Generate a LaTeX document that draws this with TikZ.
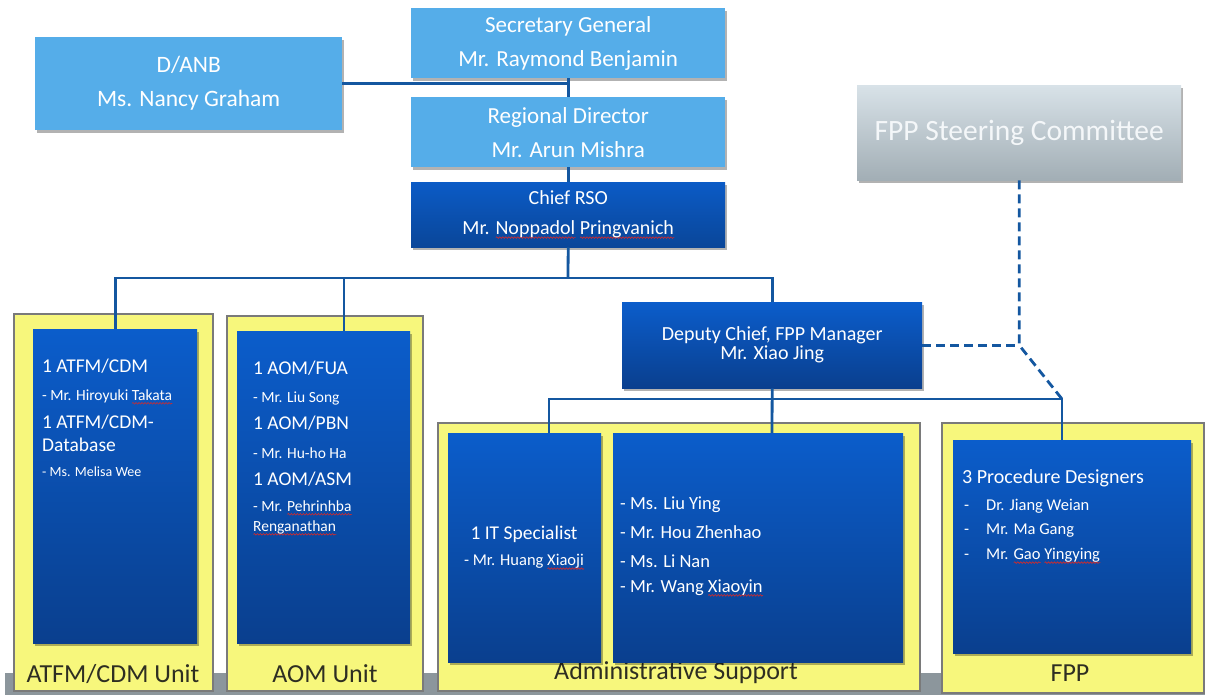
\documentclass[tikz,border=0pt]{standalone}
\usepackage{fontspec}
\setmainfont{Carlito}
\usetikzlibrary{shadows,decorations.pathmorphing}
\definecolor{lblue}{HTML}{55ADE9}
\definecolor{dtop}{HTML}{0B5DCB}
\definecolor{dbot}{HTML}{0A3F8E}
\definecolor{rtop}{HTML}{0B5BC6}
\definecolor{rbot}{HTML}{0A4699}
\definecolor{cblue}{HTML}{1457A0}
\definecolor{ylw}{HTML}{F7F77C}
\definecolor{fgray}{HTML}{7A7A7A}
\definecolor{band}{HTML}{8C969C}
\definecolor{sgtop}{HTML}{D8E2E8}
\definecolor{sgbot}{HTML}{A2AEB5}
\definecolor{sgtext}{HTML}{F4F7F9}
\definecolor{lbl}{HTML}{2E2E22}
\definecolor{sperred}{HTML}{D42A2A}
\newlength\sperrw
\newcommand\sperr[1]{\settowidth\sperrw{#1}\leavevmode\rlap{\tikz[baseline=0pt,x=1pt,y=1pt]\draw[sperred,line width=0.6pt,decorate,decoration={snake,amplitude=0.8pt,segment length=3pt}] (0,-3) -- (\the\sperrw,-3);}#1}
\newcommand\fsz[2]{\fontsize{#1}{#2}\selectfont}
\begin{document}
\begin{tikzpicture}[x=1pt,y=-1pt,
  shad/.style={drop shadow={shadow xshift=1.5pt,shadow yshift=-2.5pt,opacity=0.3,fill=black}},
  lbox/.style={shad,fill=lblue,draw=none,text=white,align=center,inner sep=0pt,anchor=north west},
  rbox/.style={shad,top color=rtop,bottom color=rbot,draw=none,text=white,align=center,inner sep=0pt,anchor=north west},
  dbox/.style={shad,top color=dtop,bottom color=dbot,draw=none,text=white,align=center,inner sep=0pt,anchor=north west},
  gbox/.style={shad,top color=sgtop,bottom color=sgbot,draw=none,text=sgtext,align=center,inner sep=0pt,anchor=north west},
  ubox/.style={fill=ylw,draw=fgray,line width=2.4pt,inner sep=0pt,anchor=north west},
  ulabel/.style={text=lbl,inner sep=0pt,font=\fsz{26}{26}},
  wtxt/.style={text=white,inner sep=0pt,anchor=west},
  conn/.style={draw=cblue,line width=2.8pt},
  dconn/.style={conn,dash pattern=on 9pt off 5pt}
]
\useasboundingbox (0,0) rectangle (1205,695);
\fill[band] (5,673) rectangle (1205,695);

% unit frames
\node[ubox,minimum width=199,minimum height=377] (atfmU) at (13,313) {};
\node[ubox,minimum width=196,minimum height=375] (aomU) at (226,315) {};
\node[ubox,minimum width=482,minimum height=268] (admU) at (437,422) {};
\node[ubox,minimum width=262,minimum height=270] (fppU) at (941,422) {};

\node[ulabel] (atfmL) at (113,674) {ATFM/CDM Unit};
\node[ulabel] (aomL) at (325,674) {AOM Unit};
\node[ulabel] (admL) at (676,673) {Administrative Support};
\node[ulabel] (fppL) at (1070,673) {FPP};

% top boxes
\node[lbox,minimum width=307,minimum height=93,font=\fsz{23.5}{34}] (anb) at (35,37) {D/ANB\\Ms. Nancy Graham};
\node[lbox,minimum width=314,minimum height=70,font=\fsz{23}{34}] (sg) at (411,8) {Secretary General\\Mr. Raymond Benjamin};
\node[lbox,minimum width=314,minimum height=70,font=\fsz{23}{34}] (rd) at (411,97) {Regional Director\\Mr. Arun Mishra};
\node[rbox,minimum width=314,minimum height=65,font=\fsz{20}{30}] (rso) at (411,182) {Chief RSO\\Mr. \sperr{Noppadol} \sperr{Pringvanich}};
\node[gbox,minimum width=324,minimum height=95,font=\fsz{29.5}{29.5}] (steer) at (857,85) {FPP Steering Committee};
\node[dbox,minimum width=300,minimum height=86,font=\fsz{20}{19}] (dep) at (622,302) {Deputy Chief, FPP Manager\\Mr. Xiao Jing};

% inner boxes
\node[dbox,minimum width=164,minimum height=314] (atfmI) at (33,329) {};
\node[dbox,minimum width=173,minimum height=312] (aomI) at (237,331) {};
\node[dbox,minimum width=153,minimum height=229] (itI) at (448,433) {};
\node[dbox,minimum width=290,minimum height=229] (admI) at (613,433) {};
\node[dbox,minimum width=238,minimum height=213] (fppI) at (953,440) {};

% ATFM texts
\node[wtxt,font=\fsz{19.5}{20}] (a1) at (42,366) {1 ATFM/CDM};
\node[wtxt,font=\fsz{15.5}{16}] (a2) at (42,397) {- Mr. Hiroyuki \sperr{Takata}};
\node[wtxt,font=\fsz{19.5}{20}] (a3) at (42,422) {1 ATFM/CDM-};
\node[wtxt,font=\fsz{19.5}{20}] (a4) at (42,445) {Database};
\node[wtxt,font=\fsz{14}{15}] (a5) at (42,472) {- Ms. Melisa Wee};

% AOM texts
\node[wtxt,font=\fsz{19.5}{20}] (o1) at (253,368) {1 AOM/FUA};
\node[wtxt,font=\fsz{15.5}{16}] (o2) at (253,398) {- Mr. Liu Song};
\node[wtxt,font=\fsz{19.5}{20}] (o3) at (253,423) {1 AOM/PBN};
\node[wtxt,font=\fsz{15.5}{16}] (o4) at (253,453) {- Mr. Hu-ho Ha};
\node[wtxt,font=\fsz{19.5}{20}] (o5) at (253,479) {1 AOM/ASM};
\node[wtxt,font=\fsz{15.5}{16}] (o6) at (253,508) {- Mr. \sperr{Pehrinhba}};
\node[wtxt,font=\fsz{15.5}{16}] (o7) at (253,528) {\sperr{Renganathan}};

% IT texts
\node[text=white,inner sep=0pt,font=\fsz{19.5}{20}] (i1) at (524,534) {1 IT Specialist};
\node[text=white,inner sep=0pt,font=\fsz{16.5}{17}] (i2) at (524,562) {- Mr. Huang \sperr{Xiaoji}};

% admin list
\node[wtxt,font=\fsz{18.5}{19}] (s1) at (620,505) {- Ms. Liu Ying};
\node[wtxt,font=\fsz{18.5}{19}] (s2) at (620,532) {- Mr. Hou Zhenhao};
\node[wtxt,font=\fsz{18.5}{19}] (s3) at (620,561) {- Ms. Li Nan};
\node[wtxt,font=\fsz{18.5}{19}] (s4) at (620,588) {- Mr. Wang \sperr{Xiaoyin}};

% FPP texts
\node[wtxt,font=\fsz{20}{20}] (f1) at (962,478) {3 Procedure Designers};
\node[wtxt,font=\fsz{16.5}{17}] (f2) at (986,506) {Dr. Jiang Weian};
\node[wtxt,font=\fsz{16.5}{17}] (f3) at (986,531) {Mr. Ma Gang};
\node[wtxt,font=\fsz{16.5}{17}] (f4) at (986,556) {Mr. \sperr{Gao} \sperr{Yingying}};
\path (f2.base west) ++(-22,0) node[text=white,inner sep=0pt,anchor=base west,font=\fsz{16.5}{17}] (f2d) {-};
\path (f3.base west) ++(-22,0) node[text=white,inner sep=0pt,anchor=base west,font=\fsz{16.5}{17}] (f3d) {-};
\path (f4.base west) ++(-22,0) node[text=white,inner sep=0pt,anchor=base west,font=\fsz{16.5}{17}] (f4d) {-};

% connectors
\coordinate (bus1) at (568,278);
\coordinate (aomTop) at (344,331);
\coordinate (bus2) at (772,399);
\coordinate (itTop) at (549,433);
\coordinate (admTop) at (772,433);
\coordinate (fppTop) at (1062,440);
\draw[conn] (anb.east) -- (anb.east -| sg.south);
\draw[conn] (sg.south) -- (rd.north);
\draw[conn] (rd.south) -- (rso.north);
\draw[conn] (rso.south) -- (bus1);
\draw[conn] (atfmI.north) |- (bus1) -| (dep.north);
\draw[conn] (aomTop) -- (aomTop |- bus1);
\draw[conn] (dep.south) -- (admTop);
\draw[conn] (itTop) |- (bus2) -| (fppTop);
\draw[dconn] (dep.east) -- (steer.south |- dep.east) coordinate (kink);
\draw[dconn] (steer.south) -- (kink) -- (fppTop |- bus2);
\end{tikzpicture}
\end{document}
